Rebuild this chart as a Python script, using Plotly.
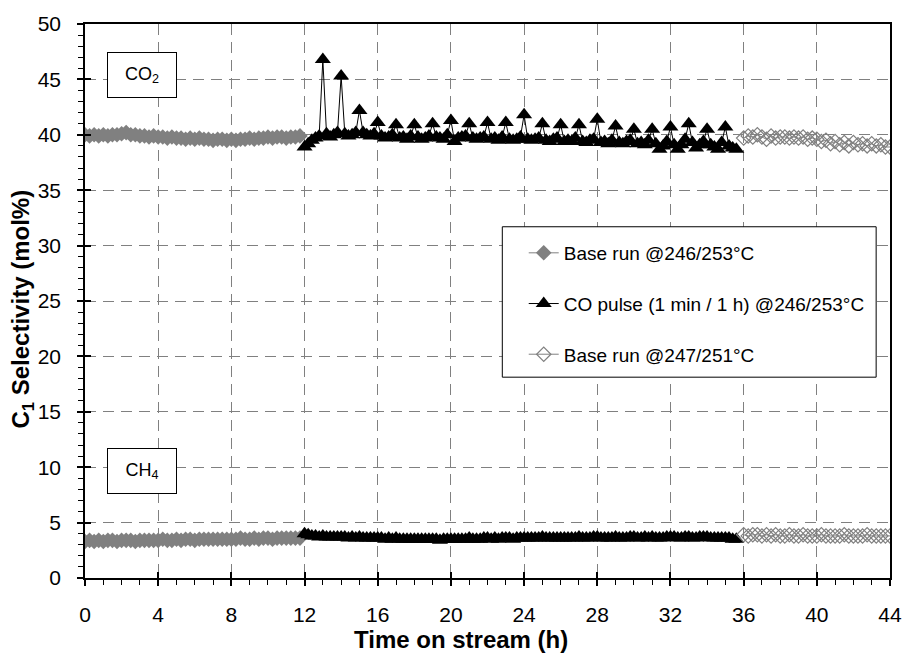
import plotly.graph_objects as go

# ---------------- data ----------------
T_BASE1 = [0, 0.25, 0.5, 0.75, 1, 1.25, 1.5, 1.75,
           2, 2.25, 2.5, 2.75, 3, 3.25, 3.5, 3.75,
           4, 4.25, 4.5, 4.75, 5, 5.25, 5.5, 5.75,
           6, 6.25, 6.5, 6.75, 7, 7.25, 7.5, 7.75,
           8, 8.25, 8.5, 8.75, 9, 9.25, 9.5, 9.75,
           10, 10.25, 10.5, 10.75, 11, 11.25, 11.5, 11.75]
CO2_BASE1 = [40.0, 39.9, 40.0, 39.9, 40.0, 39.9, 40.0, 40.0,
             40.1, 40.2, 40.0, 40.0, 39.9, 39.9, 39.8, 39.9,
             39.8, 39.8, 39.7, 39.8, 39.7, 39.7, 39.6, 39.7,
             39.6, 39.7, 39.6, 39.6, 39.5, 39.6, 39.6, 39.5,
             39.6, 39.5, 39.6, 39.6, 39.7, 39.6, 39.7, 39.7,
             39.8, 39.7, 39.8, 39.8, 39.7, 39.8, 39.8, 39.9]
CH4_BASE1 = [3.3, 3.4, 3.3, 3.4, 3.3, 3.4, 3.4, 3.3,
             3.4, 3.4, 3.4, 3.3, 3.4, 3.4, 3.4, 3.4,
             3.4, 3.5, 3.4, 3.4, 3.5, 3.4, 3.5, 3.5,
             3.4, 3.5, 3.5, 3.5, 3.5, 3.5, 3.5, 3.5,
             3.5, 3.5, 3.6, 3.5, 3.5, 3.6, 3.5, 3.6,
             3.6, 3.5, 3.6, 3.6, 3.6, 3.6, 3.6, 3.6]

T_PULSE = [12.0, 12.2, 12.4, 12.6, 12.8,
           13.0, 13.2, 13.4, 13.6, 13.8,
           14.0, 14.2, 14.4, 14.6, 14.8,
           15.0, 15.2, 15.4, 15.6, 15.8,
           16.0, 16.2, 16.4, 16.6, 16.8,
           17.0, 17.2, 17.4, 17.6, 17.8,
           18.0, 18.2, 18.4, 18.6, 18.8,
           19.0, 19.2, 19.4, 19.6, 19.8,
           20.0, 20.2, 20.4, 20.6, 20.8,
           21.0, 21.2, 21.4, 21.6, 21.8,
           22.0, 22.2, 22.4, 22.6, 22.8,
           23.0, 23.2, 23.4, 23.6, 23.8,
           24.0, 24.2, 24.4, 24.6, 24.8,
           25.0, 25.2, 25.4, 25.6, 25.8,
           26.0, 26.2, 26.4, 26.6, 26.8,
           27.0, 27.2, 27.4, 27.6, 27.8,
           28.0, 28.2, 28.4, 28.6, 28.8,
           29.0, 29.2, 29.4, 29.6, 29.8,
           30.0, 30.2, 30.4, 30.6, 30.8,
           31.0, 31.2, 31.4, 31.6, 31.8,
           32.0, 32.2, 32.4, 32.6, 32.8,
           33.0, 33.2, 33.4, 33.6, 33.8,
           34.0, 34.2, 34.4, 34.6, 34.8,
           35.0, 35.2, 35.4, 35.6]
CO2_PULSE = [38.9, 39.2, 39.5, 39.7, 39.9,
             46.8, 40.1, 39.8, 40.0, 40.2,
             45.3, 40.1, 39.9, 40.0, 40.2,
             42.2, 40.2, 40.0, 39.9, 40.1,
             41.1, 39.9, 39.7, 39.8, 40.0,
             40.9, 39.7, 39.8, 39.6, 39.9,
             40.9, 39.8, 39.6, 39.7, 39.9,
             41.0, 39.8, 39.7, 39.6, 40.0,
             41.3, 39.4, 39.7, 39.8, 39.9,
             41.0, 39.7, 39.6, 39.7, 39.8,
             41.1, 39.6, 39.7, 39.5, 39.8,
             41.1, 39.6, 39.5, 39.6, 39.8,
             41.8, 39.6, 39.5, 39.6, 39.7,
             41.0, 39.5, 39.4, 39.6, 39.7,
             40.9, 39.4, 39.5, 39.4, 39.7,
             40.9, 39.4, 39.3, 39.5, 39.6,
             41.4, 39.3, 39.4, 39.2, 39.5,
             40.8, 39.3, 39.2, 39.4, 39.5,
             40.5, 39.2, 39.3, 39.1, 39.5,
             40.5, 39.2, 38.7, 39.0, 39.4,
             40.7, 39.1, 38.7, 39.1, 39.6,
             41.0, 39.3, 38.8, 39.1, 39.4,
             40.5, 39.1, 38.9, 38.7, 39.3,
             40.7, 39.0, 38.8, 38.7]
CH4_PULSE = [4.0, 3.9, 3.8, 3.8, 3.7,
             3.8, 3.7, 3.7, 3.7, 3.7,
             3.7, 3.7, 3.6, 3.7, 3.6,
             3.7, 3.6, 3.6, 3.6, 3.6,
             3.6, 3.6, 3.5, 3.6, 3.5,
             3.6, 3.5, 3.5, 3.5, 3.5,
             3.5, 3.5, 3.5, 3.5, 3.5,
             3.5, 3.5, 3.4, 3.5, 3.5,
             3.5, 3.5, 3.5, 3.5, 3.5,
             3.6, 3.5, 3.5, 3.5, 3.6,
             3.6, 3.5, 3.6, 3.5, 3.6,
             3.6, 3.6, 3.5, 3.6, 3.6,
             3.6, 3.6, 3.6, 3.6, 3.6,
             3.7, 3.6, 3.6, 3.6, 3.6,
             3.6, 3.6, 3.6, 3.6, 3.6,
             3.7, 3.6, 3.6, 3.6, 3.7,
             3.7, 3.6, 3.6, 3.6, 3.6,
             3.7, 3.6, 3.6, 3.6, 3.7,
             3.7, 3.6, 3.6, 3.7, 3.6,
             3.7, 3.6, 3.6, 3.6, 3.7,
             3.7, 3.7, 3.6, 3.6, 3.7,
             3.7, 3.6, 3.6, 3.7, 3.7,
             3.7, 3.6, 3.6, 3.6, 3.6,
             3.6, 3.6, 3.5, 3.5]

T_BASE2 = [36, 36.25, 36.5, 36.75, 37, 37.25, 37.5, 37.75,
           38, 38.25, 38.5, 38.75, 39, 39.25, 39.5, 39.75,
           40, 40.25, 40.5, 40.75, 41, 41.25, 41.5, 41.75,
           42, 42.25, 42.5, 42.75, 43, 43.25, 43.5, 43.75, 44]
CO2_BASE2 = [39.7, 39.9, 39.8, 40.0, 39.8, 39.6, 39.9, 39.7,
             39.8, 39.8, 39.7, 39.8, 39.7, 39.8, 39.6, 39.7,
             39.6, 39.4, 39.5, 39.2, 39.4, 39.1, 39.3, 39.0,
             39.3, 39.1, 39.2, 39.0, 39.2, 39.0, 39.1, 38.9, 38.9]
CH4_BASE2 = [3.9, 3.8, 3.9, 3.9, 3.8, 3.9, 3.8, 3.9,
             3.8, 3.8, 3.9, 3.8, 3.8, 3.9, 3.8, 3.8,
             3.8, 3.9, 3.8, 3.8, 3.8, 3.8, 3.9, 3.8,
             3.8, 3.8, 3.8, 3.9, 3.8, 3.8, 3.8, 3.8, 3.8]

NAMES = ["Base run @246/253°C", "CO pulse (1 min / 1 h) @246/253°C", "Base run @247/251°C"]
X_TICKS = [0, 4, 8, 12, 16, 20, 24, 28, 32, 36, 40, 44]
Y_TICKS = [0, 5, 10, 15, 20, 25, 30, 35, 40, 45, 50]
X_TITLE = "<b>Time on stream (h)</b>"
Y_TITLE = "<b>C<sub>1</sub> Selectivity (mol%)</b>"

FONT = "Liberation Sans, Arial, sans-serif"
GRAY = "#808080"

fig = go.Figure()

styles = [
    dict(mode="lines+markers", line=dict(color=GRAY, width=1),
         marker=dict(symbol="diamond", size=12, color=GRAY, line=dict(width=0))),
    dict(mode="lines+markers", line=dict(color="black", width=1),
         marker=dict(symbol="triangle-up", size=14, color="black", line=dict(width=0))),
    dict(mode="lines+markers", line=dict(color=GRAY, width=1),
         marker=dict(symbol="diamond-open", size=11, color=GRAY, line=dict(width=1.2))),
]
runs = [(T_BASE1, CO2_BASE1, CH4_BASE1), (T_PULSE, CO2_PULSE, CH4_PULSE), (T_BASE2, CO2_BASE2, CH4_BASE2)]

for i, (t, co2, ch4) in enumerate(runs):
    fig.add_trace(go.Scatter(x=t, y=co2, name=NAMES[i], legendgroup=f"g{i}",
                             showlegend=True, hoverinfo="skip", **styles[i]))
    fig.add_trace(go.Scatter(x=t, y=ch4, name=NAMES[i], legendgroup=f"g{i}",
                             showlegend=False, hoverinfo="skip", **styles[i]))

# helper invisible trace for the inner half of the crossing major ticks
fig.add_trace(go.Scatter(x=[T_BASE1[0]], y=[CO2_BASE1[0]], xaxis="x2", yaxis="y2",
                         mode="markers", marker=dict(opacity=0), showlegend=False,
                         hoverinfo="skip"))

axis_common = dict(showline=True, linecolor="black", linewidth=1.5, mirror=True,
                   ticks="outside", ticklen=6, tickwidth=1.5, tickcolor="black",
                   showgrid=True, gridcolor=GRAY, gridwidth=1, griddash="11px,7px",
                   zeroline=False, tickfont=dict(family=FONT, size=21, color="black"),
                   minor=dict(ticks="outside", ticklen=5, tickwidth=1, tickcolor="black",
                              showgrid=False))

fig.update_layout(
    width=914, height=666,
    margin=dict(l=85, r=15, t=19, b=88),
    paper_bgcolor="white", plot_bgcolor="white",
    font=dict(family=FONT, color="black"),
    xaxis=dict(range=[0, 44], tickvals=X_TICKS, minor_dtick=1, ticklabelstandoff=11,
               **axis_common),
    yaxis=dict(range=[0, 50], tickvals=Y_TICKS, minor_dtick=1, ticklabelstandoff=12,
               **axis_common),
    xaxis2=dict(overlaying="x", anchor="y", range=[0, 44], tickvals=X_TICKS,
                ticks="inside", ticklen=6, tickwidth=1.5, tickcolor="black",
                showticklabels=False, showgrid=False, showline=False, zeroline=False,
                side="bottom"),
    yaxis2=dict(overlaying="y", anchor="x", range=[0, 50], tickvals=Y_TICKS,
                ticks="inside", ticklen=6, tickwidth=1.5, tickcolor="black",
                showticklabels=False, showgrid=False, showline=False, zeroline=False,
                side="left"),
    legend=dict(x=0.545, y=0.621, xanchor="left", yanchor="top",
                bgcolor="rgba(0,0,0,0)", borderwidth=0,
                font=dict(family=FONT, size=19, color="black"),
                traceorder="grouped", tracegroupgap=23),
    showlegend=True,
)

# axis titles
fig.add_annotation(text=X_TITLE, xref="paper", yref="paper",
                   x=(465 - 85) / 814, y=-(640 - 578) / 560, xanchor="center", yanchor="middle",
                   showarrow=False, font=dict(family=FONT, size=24, color="black"))
fig.add_annotation(text=Y_TITLE, xref="paper", yref="paper", textangle=-90,
                   x=-(85 - 22) / 814, y=(578 - 306) / 560, xanchor="center", yanchor="middle",
                   showarrow=False, font=dict(family=FONT, size=24, color="black"))

# legend frame
fig.add_shape(type="rect", xref="paper", yref="paper",
              x0=0.5184, x1=0.9828, y0=0.3625, y1=0.634,
              line=dict(color="black", width=1), fillcolor="white", layer="above")

# species label boxes
for txt, yp in [("CO<sub>2</sub>", (578 - 70) / 560), ("CH<sub>4</sub>", (578 - 470) / 560)]:
    fig.add_annotation(text=txt, xref="paper", yref="paper", x=(143 - 85) / 814, y=yp,
                       xanchor="center", yanchor="middle",
                       showarrow=False, width=68, height=44, borderpad=0,
                       bordercolor="black", borderwidth=1, bgcolor="white",
                       font=dict(family=FONT, size=18, color="black"))

fig.write_html("out.html")
